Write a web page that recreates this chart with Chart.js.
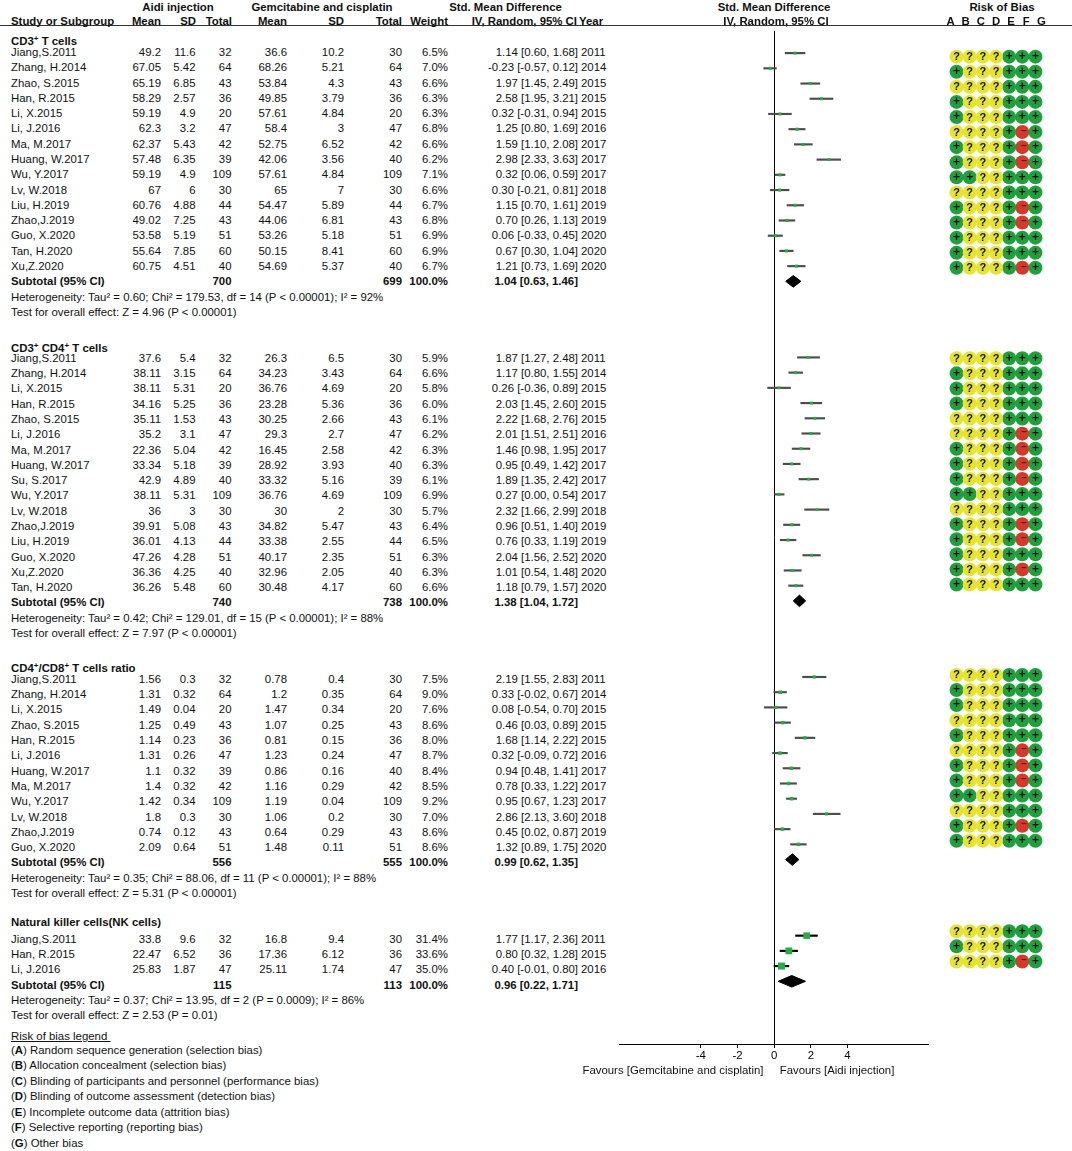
<!DOCTYPE html>
<html>
<head>
<meta charset="utf-8">
<script src="https://cdn.jsdelivr.net/npm/chart.js@4.4.1/dist/chart.umd.min.js"></script>
<style>
  body { margin: 0; background: #fff; }
  #page { position: relative; width: 1072px; height: 1151px; overflow: hidden;
          font-family: 'Liberation Sans', Arial, sans-serif; font-size: 11.4px; color: #111; }
  .t { position: absolute; white-space: nowrap; line-height: 14px; }
  .b { font-weight: bold; }
  sup { font-size: 8px; vertical-align: 4px; line-height: 0; }
  canvas { position: absolute; }
  .rule { position: absolute; left: 0; top: 25px; width: 1072px; height: 1px; background: #333; }
</style>
</head>
<body>
<div id="page">
  <div class="rule"></div>
  <canvas id="forest" width="318" height="1058" style="left:615px;top:26px"></canvas>
  <canvas id="rob" width="106" height="1018" style="left:943px;top:26px"></canvas>
</div>
<script>
// study, aidi mean, sd, total, gem mean, sd, total, weight %, smd, lower, upper, year, risk of bias A-G
const cd3Rows = [
  ['Jiang,S.2011', 49.2, 11.6, 32, 36.6, 10.2, 30, 6.5, 1.14, 0.60, 1.68, 2011, '????+++'],
  ['Zhang, H.2014', 67.05, 5.42, 64, 68.26, 5.21, 64, 7.0, -0.23, -0.57, 0.12, 2014, '+???+++'],
  ['Zhao, S.2015', 65.19, 6.85, 43, 53.84, 4.3, 43, 6.6, 1.97, 1.45, 2.49, 2015, '????+++'],
  ['Han, R.2015', 58.29, 2.57, 36, 49.85, 3.79, 36, 6.3, 2.58, 1.95, 3.21, 2015, '+???+++'],
  ['Li, X.2015', 59.19, 4.9, 20, 57.61, 4.84, 20, 6.3, 0.32, -0.31, 0.94, 2015, '+???+++'],
  ['Li, J.2016', 62.3, 3.2, 47, 58.4, 3, 47, 6.8, 1.25, 0.80, 1.69, 2016, '????+-+'],
  ['Ma, M.2017', 62.37, 5.43, 42, 52.75, 6.52, 42, 6.6, 1.59, 1.10, 2.08, 2017, '+???+-+'],
  ['Huang, W.2017', 57.48, 6.35, 39, 42.06, 3.56, 40, 6.2, 2.98, 2.33, 3.63, 2017, '+???+-+'],
  ['Wu, Y.2017', 59.19, 4.9, 109, 57.61, 4.84, 109, 7.1, 0.32, 0.06, 0.59, 2017, '++??+++'],
  ['Lv, W.2018', 67, 6, 30, 65, 7, 30, 6.6, 0.30, -0.21, 0.81, 2018, '????+++'],
  ['Liu, H.2019', 60.76, 4.88, 44, 54.47, 5.89, 44, 6.7, 1.15, 0.70, 1.61, 2019, '+???+-+'],
  ['Zhao,J.2019', 49.02, 7.25, 43, 44.06, 6.81, 43, 6.8, 0.70, 0.26, 1.13, 2019, '+???+-+'],
  ['Guo, X.2020', 53.58, 5.19, 51, 53.26, 5.18, 51, 6.9, 0.06, -0.33, 0.45, 2020, '+???+++'],
  ['Tan, H.2020', 55.64, 7.85, 60, 50.15, 8.41, 60, 6.9, 0.67, 0.30, 1.04, 2020, '+???+++'],
  ['Xu,Z.2020', 60.75, 4.51, 40, 54.69, 5.37, 40, 6.7, 1.21, 0.73, 1.69, 2020, '+???+-+']
];
const cd3Subtotal = [700, 699, 100.0, 1.04, 0.63, 1.46];
const cd3Het = 'Heterogeneity: Tau² = 0.60; Chi² = 179.53, df = 14 (P &lt; 0.00001); I² = 92%';
const cd3Test = 'Test for overall effect: Z = 4.96 (P &lt; 0.00001)';

const cd4Rows = [
  ['Jiang,S.2011', 37.6, 5.4, 32, 26.3, 6.5, 30, 5.9, 1.87, 1.27, 2.48, 2011, '????+++'],
  ['Zhang, H.2014', 38.11, 3.15, 64, 34.23, 3.43, 64, 6.6, 1.17, 0.80, 1.55, 2014, '+???+++'],
  ['Li, X.2015', 38.11, 5.31, 20, 36.76, 4.69, 20, 5.8, 0.26, -0.36, 0.89, 2015, '+???+++'],
  ['Han, R.2015', 34.16, 5.25, 36, 23.28, 5.36, 36, 6.0, 2.03, 1.45, 2.60, 2015, '+???+++'],
  ['Zhao, S.2015', 35.11, 1.53, 43, 30.25, 2.66, 43, 6.1, 2.22, 1.68, 2.76, 2015, '????+++'],
  ['Li, J.2016', 35.2, 3.1, 47, 29.3, 2.7, 47, 6.2, 2.01, 1.51, 2.51, 2016, '????+-+'],
  ['Ma, M.2017', 22.36, 5.04, 42, 16.45, 2.58, 42, 6.3, 1.46, 0.98, 1.95, 2017, '+???+-+'],
  ['Huang, W.2017', 33.34, 5.18, 39, 28.92, 3.93, 40, 6.3, 0.95, 0.49, 1.42, 2017, '+???+-+'],
  ['Su, S.2017', 42.9, 4.89, 40, 33.32, 5.16, 39, 6.1, 1.89, 1.35, 2.42, 2017, '+???+-+'],
  ['Wu, Y.2017', 38.11, 5.31, 109, 36.76, 4.69, 109, 6.9, 0.27, 0.00, 0.54, 2017, '++??+++'],
  ['Lv, W.2018', 36, 3, 30, 30, 2, 30, 5.7, 2.32, 1.66, 2.99, 2018, '????+++'],
  ['Zhao,J.2019', 39.91, 5.08, 43, 34.82, 5.47, 43, 6.4, 0.96, 0.51, 1.40, 2019, '+???+-+'],
  ['Liu, H.2019', 36.01, 4.13, 44, 33.38, 2.55, 44, 6.5, 0.76, 0.33, 1.19, 2019, '+???+-+'],
  ['Guo, X.2020', 47.26, 4.28, 51, 40.17, 2.35, 51, 6.3, 2.04, 1.56, 2.52, 2020, '+???+++'],
  ['Xu,Z.2020', 36.36, 4.25, 40, 32.96, 2.05, 40, 6.3, 1.01, 0.54, 1.48, 2020, '+???+-+'],
  ['Tan, H.2020', 36.26, 5.48, 60, 30.48, 4.17, 60, 6.6, 1.18, 0.79, 1.57, 2020, '+???+++']
];
const cd4Subtotal = [740, 738, 100.0, 1.38, 1.04, 1.72];
const cd4Het = 'Heterogeneity: Tau² = 0.42; Chi² = 129.01, df = 15 (P &lt; 0.00001); I² = 88%';
const cd4Test = 'Test for overall effect: Z = 7.97 (P &lt; 0.00001)';

const ratioRows = [
  ['Jiang,S.2011', 1.56, 0.3, 32, 0.78, 0.4, 30, 7.5, 2.19, 1.55, 2.83, 2011, '????+++'],
  ['Zhang, H.2014', 1.31, 0.32, 64, 1.2, 0.35, 64, 9.0, 0.33, -0.02, 0.67, 2014, '+???+++'],
  ['Li, X.2015', 1.49, 0.04, 20, 1.47, 0.34, 20, 7.6, 0.08, -0.54, 0.70, 2015, '+???+++'],
  ['Zhao, S.2015', 1.25, 0.49, 43, 1.07, 0.25, 43, 8.6, 0.46, 0.03, 0.89, 2015, '????+++'],
  ['Han, R.2015', 1.14, 0.23, 36, 0.81, 0.15, 36, 8.0, 1.68, 1.14, 2.22, 2015, '+???+++'],
  ['Li, J.2016', 1.31, 0.26, 47, 1.23, 0.24, 47, 8.7, 0.32, -0.09, 0.72, 2016, '????+-+'],
  ['Huang, W.2017', 1.1, 0.32, 39, 0.86, 0.16, 40, 8.4, 0.94, 0.48, 1.41, 2017, '+???+-+'],
  ['Ma, M.2017', 1.4, 0.32, 42, 1.16, 0.29, 42, 8.5, 0.78, 0.33, 1.22, 2017, '+???+-+'],
  ['Wu, Y.2017', 1.42, 0.34, 109, 1.19, 0.04, 109, 9.2, 0.95, 0.67, 1.23, 2017, '++??+++'],
  ['Lv, W.2018', 1.8, 0.3, 30, 1.06, 0.2, 30, 7.0, 2.86, 2.13, 3.60, 2018, '????+++'],
  ['Zhao,J.2019', 0.74, 0.12, 43, 0.64, 0.29, 43, 8.6, 0.45, 0.02, 0.87, 2019, '+???+-+'],
  ['Guo, X.2020', 2.09, 0.64, 51, 1.48, 0.11, 51, 8.6, 1.32, 0.89, 1.75, 2020, '+???+++']
];
const ratioSubtotal = [556, 555, 100.0, 0.99, 0.62, 1.35];
const ratioHet = 'Heterogeneity: Tau² = 0.35; Chi² = 88.06, df = 11 (P &lt; 0.00001); I² = 88%';
const ratioTest = 'Test for overall effect: Z = 5.31 (P &lt; 0.00001)';

const nkRows = [
  ['Jiang,S.2011', 33.8, 9.6, 32, 16.8, 9.4, 30, 31.4, 1.77, 1.17, 2.36, 2011, '????+++'],
  ['Han, R.2015', 22.47, 6.52, 36, 17.36, 6.12, 36, 33.6, 0.80, 0.32, 1.28, 2015, '+???+++'],
  ['Li, J.2016', 25.83, 1.87, 47, 25.11, 1.74, 47, 35.0, 0.40, -0.01, 0.80, 2016, '????+-+']
];
const nkSubtotal = [115, 113, 100.0, 0.96, 0.22, 1.71];
const nkHet = 'Heterogeneity: Tau² = 0.37; Chi² = 13.95, df = 2 (P = 0.0009); I² = 86%';
const nkTest = 'Test for overall effect: Z = 2.53 (P = 0.01)';

const axisTicks = [-4, -2, 0, 2, 4];
const biasLetters = ['A', 'B', 'C', 'D', 'E', 'F', 'G'];
const biasLegend = [
  'Random sequence generation (selection bias)',
  'Allocation concealment (selection bias)',
  'Blinding of participants and personnel (performance bias)',
  'Blinding of outcome assessment (detection bias)',
  'Incomplete outcome data (attrition bias)',
  'Selective reporting (reporting bias)',
  'Other bias'
];

const sections = [
  { title: 'CD3<sup>+</sup> T cells', rows: cd3Rows, sub: cd3Subtotal, het: cd3Het, test: cd3Test, headShift: -0.72 },
  { title: 'CD3<sup>+</sup> CD4<sup>+</sup> T cells', rows: cd4Rows, sub: cd4Subtotal, het: cd4Het, test: cd4Test, headShift: -0.62 },
  { title: 'CD4<sup>+</sup>/CD8<sup>+</sup> T cells ratio', rows: ratioRows, sub: ratioSubtotal, het: ratioHet, test: ratioTest, headShift: -0.72 },
  { title: 'Natural killer cells(NK cells)', rows: nkRows, sub: nkSubtotal, het: nkHet, test: nkTest, headShift: -1.12 }
];

const FONT = "'Liberation Sans', Arial, sans-serif";
const PITCH = 15.29;
const rowY = r => 52 + r * PITCH;
const COL = { study: 11, aMean: 161, aSD: 195.5, aN: 231.5, gMean: 287, gSD: 344, gN: 402, weight: 448, ci: 578, year: 581 };
const page = document.getElementById('page');

function put (html, x, y, align, bold) {
  const d = document.createElement('div');
  d.className = 't' + (bold ? ' b' : '');
  d.innerHTML = html;
  d.style.top = (y - 7) + 'px';
  if (align === 'right') {
    d.style.right = (1072 - x) + 'px';
  } else if (align === 'center') {
    d.style.left = x + 'px';
    d.style.transform = 'translateX(-50%)';
  } else {
    d.style.left = x + 'px';
  }
  page.appendChild(d);
}

const ciText = (m, lo, hi) => `${m.toFixed(2)} [${lo.toFixed(2)}, ${hi.toFixed(2)}]`;

// column headers
put('Aidi injection', 178, 6.5, 'center', true);
put('Gemcitabine and cisplatin', 322, 6.5, 'center', true);
put('Std. Mean Difference', 505.5, 6.5, 'center', true);
put('Std. Mean Difference', 774, 6.5, 'center', true);
put('Risk of Bias', 1002, 6.5, 'center', true);
put('Study or Subgroup', 11, 20.5, 'left', true);
put('Mean', COL.aMean, 20.5, 'right', true);
put('SD', COL.aSD + 0.5, 20.5, 'right', true);
put('Total', COL.aN + 0.5, 20.5, 'right', true);
put('Mean', COL.gMean, 20.5, 'right', true);
put('SD', COL.gSD, 20.5, 'right', true);
put('Total', COL.gN, 20.5, 'right', true);
put('Weight', COL.weight, 20.5, 'right', true);
put('IV, Random, 95% CI', 577, 20.5, 'right', true);
put('Year', 579, 20.5, 'left', true);
put('IV, Random, 95% CI', 776, 20.5, 'center', true);
biasLetters.forEach((l, j) => put(l, 943 + (j + 0.5) * 106 / 7, 20.5, 'center', true));

// table body + chart data
const squares = [], squareRadius = [], ciBars = [], ciColors = [], diamonds = [];
const robLow = [], robUnclear = [], robHigh = [];
let start = 0;
sections.forEach((sec, k) => {
  const nk = k === sections.length - 1;
  put(sec.title, 11, rowY(start + sec.headShift), 'left', true);
  sec.rows.forEach((r, i) => {
    const row = start + i;
    const y = rowY(row);
    put(r[0], COL.study, y, 'left');
    put(String(r[1]), COL.aMean, y, 'right');
    put(String(r[2]), COL.aSD, y, 'right');
    put(String(r[3]), COL.aN, y, 'right');
    put(String(r[4]), COL.gMean, y, 'right');
    put(String(r[5]), COL.gSD, y, 'right');
    put(String(r[6]), COL.gN, y, 'right');
    put(r[7].toFixed(1) + '%', COL.weight, y, 'right');
    put(ciText(r[8], r[9], r[10]), COL.ci, y, 'right');
    put(String(r[11]), COL.year, y, 'left');

    squares.push({ x: r[8], y: row });
    squareRadius.push(0.83 * Math.sqrt(r[7]));
    ciBars.push({ y: row, x: [r[9], r[10]] });
    ciColors.push(nk ? '#000' : '#4d4d4d');
    r[12].split('').forEach((c, j) => {
      const pt = { x: biasLetters[j], y: row };
      (c === '+' ? robLow : c === '-' ? robHigh : robUnclear).push(pt);
    });
  });
  const n = sec.rows.length;
  const s = sec.sub;
  const ys = rowY(start + n);
  put('Subtotal (95% CI)', 11, ys, 'left', true);
  put(String(s[0]), COL.aN, ys, 'right', true);
  put(String(s[1]), COL.gN, ys, 'right', true);
  put(s[2].toFixed(1) + '%', COL.weight, ys, 'right', true);
  put(ciText(s[3], s[4], s[5]), COL.ci, ys, 'right', true);
  put(sec.het, 11, rowY(start + n + 1), 'left');
  put(sec.test, 11, rowY(start + n + 2), 'left');
  diamonds.push({ row: start + n, est: s[3], lo: s[4], hi: s[5] });
  start += n + 5;
});

// risk of bias legend
put('<span style="text-decoration:underline">Risk of bias legend&nbsp;</span>', 11, 1036, 'left');
biasLegend.forEach((txt, j) => put(`(<b>${biasLetters[j]}</b>) ${txt}`, 11, 1050 + j * 15.45, 'left'));

put('Favours [Gemcitabine and cisplatin]', 673, 1070, 'center');
put('Favours [Aidi injection]', 837, 1070, 'center');

Chart.defaults.font.family = FONT;
Chart.defaults.color = '#111';

// forest plot
const DH = 0.38;
const diamondSets = [];
diamonds.forEach(d => {
  const base = { type: 'line', borderColor: '#000', backgroundColor: '#000', borderWidth: 1,
                 pointRadius: 0, tension: 0, order: 2 };
  diamondSets.push(Object.assign({}, base, { fill: false,
    data: [{ x: d.lo, y: d.row }, { x: d.est, y: d.row - DH }, { x: d.hi, y: d.row }] }));
  diamondSets.push(Object.assign({}, base, { fill: '-1',
    data: [{ x: d.lo, y: d.row }, { x: d.est, y: d.row + DH }, { x: d.hi, y: d.row }] }));
});

new Chart(document.getElementById('forest'), {
  type: 'scatter',
  data: {
    datasets: [
      { data: squares, pointStyle: 'rect', pointRadius: squareRadius, backgroundColor: '#22ad4a',
        borderWidth: 0, order: 0 },
      { type: 'bar', indexAxis: 'y', data: ciBars, backgroundColor: ciColors, barThickness: 1.5,
        grouped: false, borderWidth: 0, order: 1 },
      ...diamondSets
    ]
  },
  options: {
    responsive: false,
    animation: false,
    events: [],
    layout: { padding: 0 },
    plugins: { legend: { display: false }, tooltip: { enabled: false } },
    scales: {
      x: {
        type: 'linear', min: -8.42, max: 8.4, offset: false,
        afterBuildTicks: s => { s.ticks = axisTicks.map(v => ({ value: v })); },
        afterFit: s => { s.height = 40; },
        grid: {
          offset: false,
          color: c => (c.tick && c.tick.value === 0 ? '#000' : 'rgba(0,0,0,0)'),
          tickColor: '#000', tickLength: 4, lineWidth: 1
        },
        border: { display: true, color: '#000', width: 1 },
        ticks: { color: '#000', font: { size: 11.4 }, padding: 1, maxRotation: 0, autoSkip: false }
      },
      y: { type: 'linear', reverse: true, min: -1.458, max: 65.12, offset: false, display: false,
           grid: { offset: false } }
    }
  }
});

// risk of bias dots
const robSymbols = {
  id: 'robSymbols',
  afterDatasetsDraw (chart) {
    const ctx = chart.ctx;
    chart.data.datasets.forEach((ds, i) => {
      const meta = chart.getDatasetMeta(i);
      ctx.save();
      ctx.fillStyle = ds.symbolColor;
      ctx.font = `bold ${ds.symbolSize}px ${FONT}`;
      ctx.textAlign = 'center';
      ctx.textBaseline = 'middle';
      meta.data.forEach(p => ctx.fillText(ds.symbol, p.x + ds.dx, p.y + ds.dy));
      ctx.restore();
    });
  }
};

new Chart(document.getElementById('rob'), {
  type: 'scatter',
  data: {
    datasets: [
      { data: robUnclear, backgroundColor: '#e6e42c', symbol: '?', symbolColor: '#111', symbolSize: 11, dx: 0, dy: 0.5 },
      { data: robLow, backgroundColor: '#1ea13d', symbol: '+', symbolColor: '#111', symbolSize: 12, dx: 0, dy: 0 },
      { data: robHigh, backgroundColor: '#d5392b', symbol: '\u2212', symbolColor: '#5b1a12', symbolSize: 10, dx: 2, dy: -1 }
    ].map(ds => Object.assign({ pointRadius: 7, borderWidth: 0, pointStyle: 'circle' }, ds))
  },
  options: {
    responsive: false,
    animation: false,
    events: [],
    layout: { padding: 0 },
    plugins: { legend: { display: false }, tooltip: { enabled: false } },
    scales: {
      x: { type: 'category', labels: biasLetters, offset: true, display: false },
      y: { type: 'linear', reverse: true, min: -1.57, max: 65.01, display: false }
    }
  },
  plugins: [robSymbols]
});
</script>
</body>
</html>
